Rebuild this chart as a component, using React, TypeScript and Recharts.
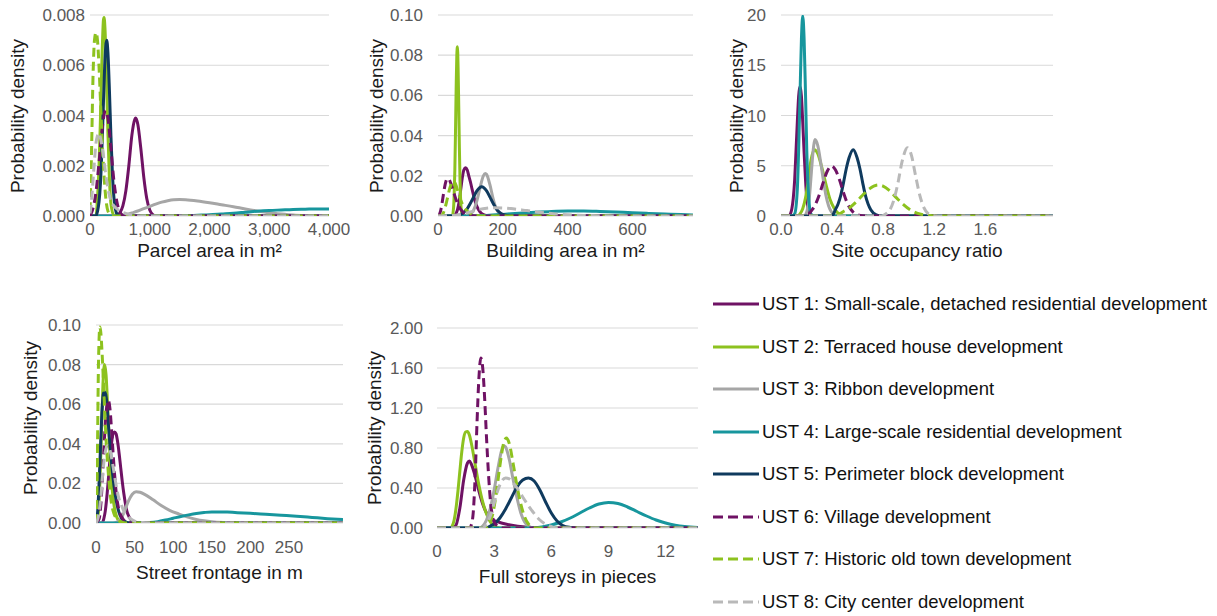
import { LineChart, Line, XAxis, YAxis, CartesianGrid } from "recharts";

type Pt = [number, number];

const ustNames = [
  "UST 1: Small-scale, detached residential development",
  "UST 2: Terraced house development",
  "UST 3: Ribbon development",
  "UST 4: Large-scale residential development",
  "UST 5: Perimeter block development",
  "UST 6: Village development",
  "UST 7: Historic old town development",
  "UST 8: City center development",
];

// Parcel area in m² (x, density)
const parcelUst1: Pt[] = [[0, 0], [450, 0], [500, 0.00013], [550, 0.0004], [600, 0.001], [650, 0.002], [700, 0.0032], [750, 0.00385], [765, 0.0039], [800, 0.00365], [850, 0.0027], [900, 0.00155], [950, 0.0007], [1000, 0.00024], [1050, 0.00006], [1100, 0], [4000, 0]];
const parcelUst2: Pt[] = [[0, 0], [100, 0], [125, 0.0007], [150, 0.0019], [175, 0.0039], [200, 0.0062], [225, 0.0078], [235, 0.0079], [250, 0.0075], [275, 0.0056], [300, 0.0033], [325, 0.0015], [350, 0.0005], [400, 0.00003], [450, 0], [4000, 0]];
const parcelUst3: Pt[] = [[0, 0], [550, 0], [600, 0.00004], [700, 0.00012], [800, 0.0002], [900, 0.00029], [1000, 0.00038], [1100, 0.00047], [1200, 0.00055], [1300, 0.00061], [1400, 0.00065], [1500, 0.00066], [1600, 0.00065], [1800, 0.0006], [2000, 0.00053], [2200, 0.00045], [2400, 0.00037], [2600, 0.00028], [2800, 0.0002], [3000, 0.00013], [3200, 0.00008], [3400, 0.00004], [3600, 0.00002], [3800, 0.00001], [4000, 0]];
const parcelUst4: Pt[] = [[0, 0], [1400, 0], [1600, 0.00001], [1800, 0.00003], [2000, 0.00005], [2200, 0.00008], [2400, 0.00011], [2600, 0.00015], [2800, 0.00019], [3000, 0.00022], [3200, 0.00024], [3400, 0.00026], [3600, 0.00027], [3800, 0.00028], [4000, 0.00028]];
const parcelUst5: Pt[] = [[0, 0], [100, 0], [125, 0.00018], [150, 0.00054], [175, 0.0013], [200, 0.0027], [225, 0.0045], [250, 0.0062], [280, 0.007], [300, 0.0065], [325, 0.005], [350, 0.0032], [375, 0.0017], [400, 0.00075], [450, 0.00008], [500, 0], [4000, 0]];
const parcelUst6: Pt[] = [[0, 0], [50, 0.0003], [100, 0.00095], [150, 0.0021], [200, 0.0034], [262, 0.0042], [300, 0.0039], [350, 0.0027], [400, 0.0014], [450, 0.00057], [500, 0.00017], [550, 0.00003], [600, 0], [4000, 0]];
const parcelUst7: Pt[] = [[0, 0.0002], [25, 0.0025], [50, 0.0055], [75, 0.007], [100, 0.0073], [125, 0.007], [150, 0.006], [175, 0.0046], [200, 0.0032], [225, 0.002], [250, 0.0011], [275, 0.0005], [300, 0.0002], [350, 0.00003], [400, 0], [4000, 0]];
const parcelUst8: Pt[] = [[0, 0.0001], [25, 0.0006], [50, 0.0014], [75, 0.0022], [100, 0.0029], [125, 0.0032], [150, 0.0033], [175, 0.0031], [200, 0.0028], [225, 0.0024], [250, 0.0019], [300, 0.0011], [350, 0.0006], [400, 0.0004], [500, 0.0002], [600, 0.0001], [700, 0.00004], [800, 0], [4000, 0]];

// Building area in m²
const buildingUst1: Pt[] = [[0, 0], [50, 0], [55, 0.001], [60, 0.003], [65, 0.007], [70, 0.013], [75, 0.019], [80, 0.023], [85, 0.024], [90, 0.023], [95, 0.02], [100, 0.017], [105, 0.0135], [110, 0.01], [115, 0.007], [120, 0.0048], [130, 0.002], [140, 0.0007], [150, 0.0002], [170, 0], [787, 0]];
const buildingUst2: Pt[] = [[0, 0], [44, 0], [48, 0.004], [50, 0.011], [52, 0.023], [54, 0.042], [56, 0.063], [58, 0.0795], [60, 0.0842], [62, 0.074], [64, 0.055], [66, 0.034], [68, 0.0176], [70, 0.0076], [72, 0.0029], [75, 0.0005], [80, 0], [787, 0]];
const buildingUst3: Pt[] = [[0, 0], [90, 0], [100, 0.0008], [110, 0.0029], [120, 0.0075], [130, 0.0143], [140, 0.02], [146, 0.0212], [150, 0.0207], [160, 0.0157], [170, 0.0087], [180, 0.0036], [190, 0.0011], [200, 0.0002], [220, 0], [787, 0]];
const buildingUst4: Pt[] = [[0, 0], [100, 0.0001], [150, 0.0003], [200, 0.0008], [250, 0.0014], [300, 0.0019], [350, 0.0023], [400, 0.0025], [450, 0.0025], [500, 0.0023], [550, 0.002], [600, 0.0016], [650, 0.0013], [700, 0.001], [750, 0.0007], [787, 0.0005]];
const buildingUst5: Pt[] = [[0, 0], [60, 0], [70, 0.0008], [80, 0.0018], [90, 0.0036], [100, 0.0063], [110, 0.0095], [120, 0.0125], [135, 0.0146], [150, 0.0125], [160, 0.0095], [170, 0.0063], [180, 0.0036], [190, 0.0018], [200, 0.0008], [220, 0.0001], [240, 0], [787, 0]];
const buildingUst6: Pt[] = [[0, 0], [5, 0.001], [10, 0.004], [15, 0.009], [20, 0.014], [25, 0.0175], [30, 0.0187], [35, 0.018], [40, 0.016], [45, 0.0135], [50, 0.011], [55, 0.0085], [60, 0.0063], [70, 0.0033], [80, 0.0015], [90, 0.0006], [100, 0.0002], [120, 0], [787, 0]];
const buildingUst7: Pt[] = [[0, 0], [10, 0], [15, 0.001], [20, 0.003], [25, 0.006], [30, 0.0095], [35, 0.013], [40, 0.0155], [45, 0.017], [50, 0.017], [55, 0.0155], [60, 0.013], [65, 0.0105], [70, 0.008], [75, 0.006], [80, 0.0045], [90, 0.0025], [100, 0.0013], [120, 0.0003], [140, 0], [787, 0]];
const buildingUst8: Pt[] = [[0, 0], [50, 0.0003], [75, 0.001], [100, 0.002], [125, 0.0032], [150, 0.0039], [175, 0.0041], [200, 0.004], [225, 0.0037], [250, 0.0032], [275, 0.0027], [300, 0.0021], [350, 0.0012], [400, 0.0006], [450, 0.0003], [500, 0.0001], [550, 0], [787, 0]];

// Site occupancy ratio
const siteUst1: Pt[] = [[0, 0], [0.064, 0], [0.075, 0.26], [0.085, 0.73], [0.096, 1.75], [0.107, 3.6], [0.117, 6.3], [0.128, 9.4], [0.138, 11.9], [0.149, 12.9], [0.16, 11.9], [0.17, 9.4], [0.181, 6.3], [0.192, 3.6], [0.202, 1.75], [0.213, 0.73], [0.224, 0.26], [0.234, 0.05], [0.256, 0], [2.13, 0]];
const siteUst2: Pt[] = [[0, 0], [0.128, 0], [0.149, 0.22], [0.17, 0.73], [0.192, 1.8], [0.213, 3.5], [0.234, 5.5], [0.261, 6.6], [0.288, 6.2], [0.32, 4.8], [0.351, 3.2], [0.383, 1.7], [0.415, 0.8], [0.447, 0.29], [0.49, 0.06], [0.533, 0], [2.13, 0]];
const siteUst3: Pt[] = [[0, 0], [0.181, 0], [0.202, 0.43], [0.213, 1], [0.224, 2.1], [0.234, 3.7], [0.245, 5.5], [0.256, 7], [0.266, 7.6], [0.288, 7], [0.309, 5.5], [0.33, 3.7], [0.351, 2.1], [0.373, 1], [0.394, 0.43], [0.426, 0.08], [0.447, 0], [2.13, 0]];
const siteUst4: Pt[] = [[0, 0], [0.085, 0], [0.107, 0.22], [0.128, 2.7], [0.138, 6.5], [0.149, 12.1], [0.16, 17.6], [0.17, 19.9], [0.181, 17.6], [0.192, 12.1], [0.202, 6.5], [0.213, 2.7], [0.234, 0.22], [0.256, 0], [2.13, 0]];
const siteUst5: Pt[] = [[0, 0], [0.383, 0], [0.405, 0.1], [0.426, 0.63], [0.447, 1.2], [0.469, 2.1], [0.49, 3.35], [0.511, 4.7], [0.533, 5.8], [0.566, 6.6], [0.596, 5.8], [0.618, 4.7], [0.639, 3.35], [0.66, 2.1], [0.682, 1.2], [0.703, 0.63], [0.746, 0.12], [0.788, 0], [2.13, 0]];
const siteUst6: Pt[] = [[0, 0], [0.192, 0], [0.213, 0.05], [0.234, 0.45], [0.266, 1.06], [0.298, 2.05], [0.33, 3.3], [0.362, 4.45], [0.397, 4.97], [0.426, 4.6], [0.458, 3.6], [0.49, 2.3], [0.522, 1.2], [0.554, 0.55], [0.586, 0.2], [0.639, 0.02], [0.692, 0], [2.13, 0]];
const siteUst7: Pt[] = [[0, 0], [0.426, 0], [0.479, 0.38], [0.533, 0.78], [0.586, 1.36], [0.639, 2.07], [0.692, 2.7], [0.762, 3.08], [0.799, 2.98], [0.852, 2.5], [0.905, 1.8], [0.959, 1.13], [1.012, 0.61], [1.065, 0.28], [1.118, 0.11], [1.172, 0.04], [1.225, 0], [2.13, 0]];
const siteUst8: Pt[] = [[0, 0], [0.788, 0], [0.82, 0.2], [0.852, 0.6], [0.884, 1.6], [0.916, 3.3], [0.948, 5.4], [0.99, 6.8], [1.022, 6], [1.054, 4], [1.086, 2.1], [1.118, 0.86], [1.15, 0.27], [1.193, 0.03], [1.225, 0], [2.13, 0]];

// Street frontage in m
const streetUst1: Pt[] = [[0, 0], [8, 0], [10, 0.002], [12, 0.006], [14, 0.013], [16, 0.022], [18, 0.032], [20, 0.04], [22, 0.045], [24, 0.046], [26, 0.045], [28, 0.041], [30, 0.035], [32, 0.028], [34, 0.021], [36, 0.015], [38, 0.01], [40, 0.006], [43, 0.003], [47, 0.001], [52, 0], [320, 0]];
const streetUst2: Pt[] = [[0, 0], [3, 0.005], [5, 0.02], [7, 0.045], [9, 0.07], [11, 0.08], [13, 0.075], [15, 0.06], [17, 0.043], [19, 0.028], [21, 0.017], [23, 0.01], [25, 0.0055], [28, 0.002], [32, 0.0005], [36, 0], [320, 0]];
const streetUst3: Pt[] = [[0, 0], [22, 0], [27, 0.0005], [32, 0.002], [37, 0.006], [42, 0.011], [47, 0.0145], [52, 0.0158], [57, 0.0155], [63, 0.0145], [74, 0.0117], [85, 0.0087], [96, 0.0063], [107, 0.0046], [118, 0.0031], [130, 0.0018], [140, 0.0011], [150, 0.0006], [165, 0.0002], [185, 0], [320, 0]];
const streetUst4: Pt[] = [[0, 0], [60, 0], [70, 0.0002], [80, 0.0007], [90, 0.0015], [100, 0.0024], [110, 0.0033], [120, 0.0041], [130, 0.0048], [140, 0.0053], [150, 0.0056], [160, 0.0056], [170, 0.0055], [180, 0.0053], [200, 0.0049], [220, 0.0044], [240, 0.0039], [260, 0.0034], [280, 0.0028], [300, 0.0022], [320, 0.0017]];
const streetUst5: Pt[] = [[0, 0], [2, 0.005], [4, 0.02], [6, 0.04], [8, 0.058], [10, 0.066], [12, 0.066], [14, 0.061], [16, 0.05], [18, 0.04], [20, 0.031], [22, 0.023], [25, 0.014], [28, 0.008], [31, 0.004], [35, 0.0015], [40, 0.0003], [45, 0], [320, 0]];
const streetUst6: Pt[] = [[0, 0], [4, 0.002], [6, 0.008], [8, 0.02], [10, 0.035], [12, 0.05], [14, 0.059], [16, 0.062], [18, 0.058], [20, 0.048], [22, 0.036], [24, 0.025], [26, 0.016], [28, 0.01], [31, 0.005], [35, 0.002], [40, 0.0005], [45, 0], [320, 0]];
const streetUst7: Pt[] = [[0, 0], [1, 0.01], [2, 0.04], [3, 0.075], [4, 0.093], [5, 0.099], [6, 0.097], [8, 0.085], [10, 0.068], [12, 0.05], [14, 0.036], [16, 0.025], [18, 0.016], [20, 0.01], [23, 0.005], [26, 0.0025], [30, 0.001], [35, 0.0003], [40, 0], [320, 0]];
const streetUst8: Pt[] = [[0, 0], [3, 0.003], [6, 0.012], [9, 0.026], [12, 0.036], [15, 0.039], [18, 0.037], [21, 0.031], [24, 0.024], [27, 0.017], [30, 0.012], [33, 0.009], [36, 0.006], [40, 0.004], [45, 0.002], [50, 0.001], [60, 0.0002], [70, 0], [320, 0]];

// Full storeys in pieces
const storeysUst1: Pt[] = [[0, 0], [0.8, 0], [1, 0.03], [1.2, 0.2], [1.4, 0.48], [1.6, 0.65], [1.7, 0.67], [1.8, 0.64], [2, 0.52], [2.2, 0.37], [2.4, 0.24], [2.6, 0.15], [2.8, 0.1], [3, 0.075], [3.3, 0.055], [3.6, 0.04], [4, 0.025], [4.5, 0.012], [5, 0.004], [5.5, 0], [13.7, 0]];
const storeysUst2: Pt[] = [[0, 0], [0.7, 0], [0.8, 0.02], [0.9, 0.08], [1, 0.2], [1.1, 0.37], [1.2, 0.57], [1.3, 0.76], [1.4, 0.9], [1.5, 0.96], [1.6, 0.965], [1.7, 0.93], [1.8, 0.85], [2, 0.64], [2.2, 0.43], [2.4, 0.26], [2.6, 0.14], [2.8, 0.06], [3, 0.025], [3.3, 0], [13.7, 0]];
const storeysUst3: Pt[] = [[0, 0], [2.2, 0], [2.4, 0.02], [2.6, 0.08], [2.8, 0.2], [3, 0.38], [3.2, 0.6], [3.4, 0.78], [3.5, 0.823], [3.6, 0.81], [3.8, 0.68], [4, 0.48], [4.2, 0.3], [4.4, 0.15], [4.6, 0.06], [4.8, 0.02], [5, 0], [13.7, 0]];
const storeysUst4: Pt[] = [[0, 0], [5, 0], [5.5, 0.01], [6, 0.03], [6.5, 0.06], [7, 0.1], [7.5, 0.15], [8, 0.2], [8.5, 0.24], [9, 0.256], [9.5, 0.245], [10, 0.21], [10.5, 0.165], [11, 0.12], [11.5, 0.08], [12, 0.05], [12.5, 0.028], [13, 0.014], [13.7, 0.005]];
const storeysUst5: Pt[] = [[0, 0], [2.6, 0], [2.8, 0.02], [3, 0.04], [3.3, 0.1], [3.6, 0.19], [3.9, 0.3], [4.2, 0.41], [4.5, 0.48], [4.8, 0.5], [5.1, 0.47], [5.4, 0.38], [5.7, 0.26], [6, 0.15], [6.3, 0.07], [6.6, 0.025], [7, 0.005], [7.3, 0], [13.7, 0]];
const storeysUst6: Pt[] = [[0, 0], [1.7, 0], [1.8, 0.03], [1.9, 0.15], [2, 0.5], [2.1, 1.05], [2.2, 1.5], [2.3, 1.7], [2.4, 1.6], [2.5, 1.3], [2.6, 0.9], [2.7, 0.55], [2.8, 0.28], [2.9, 0.13], [3, 0.06], [3.2, 0.02], [3.5, 0], [13.7, 0]];
const storeysUst7: Pt[] = [[0, 0], [2.5, 0], [2.7, 0.03], [2.9, 0.12], [3.1, 0.33], [3.3, 0.62], [3.5, 0.85], [3.65, 0.9], [3.8, 0.84], [4, 0.64], [4.2, 0.42], [4.4, 0.24], [4.6, 0.11], [4.8, 0.04], [5, 0.01], [5.2, 0], [13.7, 0]];
const storeysUst8: Pt[] = [[0, 0], [2.4, 0], [2.6, 0.04], [2.8, 0.12], [3, 0.25], [3.2, 0.38], [3.4, 0.47], [3.6, 0.5], [3.8, 0.49], [4, 0.45], [4.2, 0.4], [4.4, 0.34], [4.6, 0.28], [4.8, 0.22], [5, 0.17], [5.2, 0.12], [5.4, 0.08], [5.6, 0.05], [5.8, 0.03], [6, 0.015], [6.3, 0], [13.7, 0]];

// tick values
const parcelXTicks = [0, 1000, 2000, 3000, 4000];
const parcelYTicks = [0, 0.002, 0.004, 0.006, 0.008];
const buildingXTicks = [0, 200, 400, 600];
const buildingYTicks = [0, 0.02, 0.04, 0.06, 0.08, 0.1];
const siteXTicks = [0, 0.4, 0.8, 1.2, 1.6];
const siteYTicks = [0, 5, 10, 15, 20];
const streetXTicks = [0, 50, 100, 150, 200, 250];
const streetYTicks = [0, 0.02, 0.04, 0.06, 0.08, 0.1];
const storeysXTicks = [0, 3, 6, 9, 12];
const storeysYTicks = [0, 0.4, 0.8, 1.2, 1.6, 2.0];

const PURPLE = "#6f1264";
const GREEN = "#8dc21f";
const GREY = "#a6a6a6";
const TEAL = "#17969d";
const NAVY = "#0f3a5e";
const GREY_LIGHT = "#b9b9b9";

const lineStyles = [
  { color: PURPLE, dash: undefined },
  { color: GREEN, dash: undefined },
  { color: GREY, dash: undefined },
  { color: TEAL, dash: undefined },
  { color: NAVY, dash: undefined },
  { color: PURPLE, dash: "9 5" },
  { color: GREEN, dash: "9 5" },
  { color: GREY_LIGHT, dash: "9 5" },
];

const FONT = '"Liberation Sans", Arial, sans-serif';
const tickStyle = { fill: "#595959", fontSize: 17, fontFamily: FONT };

interface PanelProps {
  series: Pt[][];
  xMax: number;
  xTicks: number[];
  xFmt: (v: number) => string;
  yMax: number;
  yTicks: number[];
  yFmt: (v: number) => string;
  left: number;
  right: number;
  top: number;
  bottom: number;
  xGap: number;
  yGap: number;
  xTitle: string;
  xTitleY: number;
  yTitleX: number;
  yTitleY: number;
}

function Panel(p: PanelProps) {
  const axisW = 80;
  const padTop = 14;
  const padRight = 30;
  const axisH = 40;
  const w = p.right - p.left;
  const h = p.bottom - p.top;
  return (
    <>
      <div style={{ position: "absolute", left: p.left - axisW, top: p.top - padTop }}>
        <LineChart
          width={axisW + w + padRight}
          height={padTop + h + axisH}
          margin={{ top: padTop, right: padRight, left: 0, bottom: 0 }}
        >
          <CartesianGrid vertical={false} stroke="#d9d9d9" strokeWidth={1.2} />
          <XAxis
            type="number"
            dataKey="x"
            domain={[0, p.xMax]}
            ticks={p.xTicks}
            interval={0}
            tickFormatter={p.xFmt}
            axisLine={false}
            tickLine={false}
            tickSize={0}
            tickMargin={p.xGap}
            height={axisH}
            tick={tickStyle}
            allowDataOverflow
          />
          <YAxis
            type="number"
            domain={[0, p.yMax]}
            ticks={p.yTicks}
            interval={0}
            tickFormatter={p.yFmt}
            axisLine={false}
            tickLine={false}
            tickSize={0}
            tickMargin={p.yGap}
            width={axisW}
            tick={tickStyle}
            allowDataOverflow
          />
          {p.series.map((pts, i) => (
            <Line
              key={i}
              data={pts.map(([x, y]) => ({ x, y }))}
              dataKey="y"
              type="monotone"
              stroke={lineStyles[i].color}
              strokeWidth={3}
              strokeDasharray={lineStyles[i].dash}
              dot={false}
              activeDot={false}
              isAnimationActive={false}
            />
          ))}
        </LineChart>
      </div>
      <div
        style={{
          position: "absolute",
          left: (p.left + p.right) / 2,
          top: p.xTitleY,
          transform: "translate(-50%, -50%)",
          whiteSpace: "nowrap",
          fontSize: 19,
          color: "#1a1a1a",
        }}
      >
        {p.xTitle}
      </div>
      <div
        style={{
          position: "absolute",
          left: p.yTitleX,
          top: p.yTitleY,
          transform: "translate(-50%, -50%) rotate(-90deg)",
          whiteSpace: "nowrap",
          fontSize: 19,
          color: "#1a1a1a",
        }}
      >
        Probability density
      </div>
    </>
  );
}

function Legend() {
  return (
    <>
      {ustNames.map((name, i) => (
        <div
          key={name}
          style={{
            position: "absolute",
            left: 713,
            top: 304 + i * 42.5,
            transform: "translateY(-50%)",
            display: "flex",
            alignItems: "center",
            whiteSpace: "nowrap",
            fontSize: 18.5,
            color: "#111",
          }}
        >
          <svg width={46} height={6} style={{ marginRight: 3 }}>
            <line
              x1={0}
              y1={3}
              x2={46}
              y2={3}
              stroke={lineStyles[i].color}
              strokeWidth={3}
              strokeDasharray={lineStyles[i].dash ? "10 5" : undefined}
            />
          </svg>
          <span>{name}</span>
        </div>
      ))}
    </>
  );
}

export default function App() {
  return (
    <div
      style={{
        position: "absolute",
        left: 0,
        top: 0,
        width: 1217,
        height: 616,
        background: "#fff",
        overflow: "hidden",
        fontFamily: FONT,
      }}
    >
      <Panel
        series={[parcelUst1, parcelUst2, parcelUst3, parcelUst4, parcelUst5, parcelUst6, parcelUst7, parcelUst8]}
        xMax={4000}
        xTicks={parcelXTicks}
        xFmt={(v) => v.toLocaleString("en-US")}
        yMax={0.008}
        yTicks={parcelYTicks}
        yFmt={(v) => v.toFixed(3)}
        left={90}
        right={329}
        top={15}
        bottom={216}
        xGap={7}
        yGap={5}
        xTitle="Parcel area in m²"
        xTitleY={251}
        yTitleX={18}
        yTitleY={116}
      />
      <Panel
        series={[buildingUst1, buildingUst2, buildingUst3, buildingUst4, buildingUst5, buildingUst6, buildingUst7, buildingUst8]}
        xMax={787}
        xTicks={buildingXTicks}
        xFmt={(v) => String(v)}
        yMax={0.1}
        yTicks={buildingYTicks}
        yFmt={(v) => v.toFixed(2)}
        left={438}
        right={693}
        top={15}
        bottom={216}
        xGap={7}
        yGap={15}
        xTitle="Building area in m²"
        xTitleY={251}
        yTitleX={377}
        yTitleY={116}
      />
      <Panel
        series={[siteUst1, siteUst2, siteUst3, siteUst4, siteUst5, siteUst6, siteUst7, siteUst8]}
        xMax={2.13}
        xTicks={siteXTicks}
        xFmt={(v) => v.toFixed(1)}
        yMax={20}
        yTicks={siteYTicks}
        yFmt={(v) => String(v)}
        left={781}
        right={1053}
        top={15}
        bottom={216}
        xGap={7}
        yGap={15}
        xTitle="Site occupancy ratio"
        xTitleY={251}
        yTitleX={737}
        yTitleY={116}
      />
      <Panel
        series={[streetUst1, streetUst2, streetUst3, streetUst4, streetUst5, streetUst6, streetUst7, streetUst8]}
        xMax={320}
        xTicks={streetXTicks}
        xFmt={(v) => String(v)}
        yMax={0.1}
        yTicks={streetYTicks}
        yFmt={(v) => v.toFixed(2)}
        left={96}
        right={343}
        top={325}
        bottom={523}
        xGap={18}
        yGap={15}
        xTitle="Street frontage in m"
        xTitleY={573}
        yTitleX={31}
        yTitleY={418}
      />
      <Panel
        series={[storeysUst1, storeysUst2, storeysUst3, storeysUst4, storeysUst5, storeysUst6, storeysUst7, storeysUst8]}
        xMax={13.7}
        xTicks={storeysXTicks}
        xFmt={(v) => String(v)}
        yMax={2}
        yTicks={storeysYTicks}
        yFmt={(v) => v.toFixed(2)}
        left={437}
        right={698}
        top={328}
        bottom={528}
        xGap={17}
        yGap={14}
        xTitle="Full storeys in pieces"
        xTitleY={577}
        yTitleX={375}
        yTitleY={428}
      />
      <Legend />
    </div>
  );
}
